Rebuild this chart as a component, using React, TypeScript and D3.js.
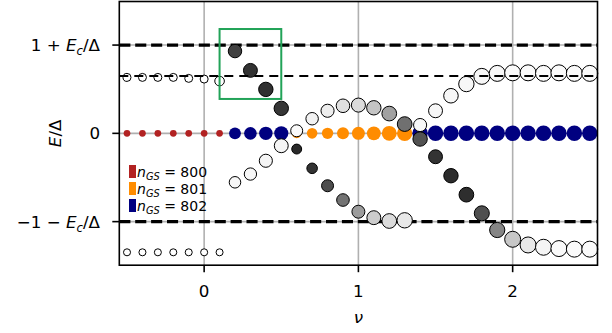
import React from "react";
import * as d3 from "d3";

// ---------- data ----------
const nu = [-0.5, -0.4, -0.3, -0.2, -0.1, 0.0, 0.1, 0.2, 0.3, 0.4, 0.5, 0.6, 0.7, 0.8, 0.9, 1.0,
  1.1, 1.2, 1.3, 1.4, 1.5, 1.6, 1.7, 1.8, 1.9, 2.0, 2.1, 2.2, 2.3, 2.4, 2.5];

const Ec = 0.54;

// ground-state particle number at each nu
const nGS = [800, 800, 800, 800, 800, 800, 800, 802, 802, 802, 802, 801, 801, 801, 801, 801,
  801, 801, 801, 802, 802, 802, 802, 802, 802, 802, 802, 802, 802, 802, 802];
const groundWeight = [0.42, 0.42, 0.42, 0.42, 0.42, 0.42, 0.42, 0.74, 0.79, 0.84, 0.88, 0.62, 0.66, 0.71, 0.75, 0.81,
  0.87, 0.93, 0.96, 0.97, 0.97, 0.97, 0.97, 0.97, 0.97, 0.97, 0.97, 0.97, 0.97, 0.97, 0.97];

// excited state branch A
const energyA = [0.976, 0.976, 0.976, 0.976, 0.959, 0.947, 0.912, 1.435, 1.098, 0.767, 0.436, -0.274, -0.61, -0.914, -1.163, -1.367,
  -1.471, -1.529, -1.517, 0.145, 0.394, 0.656, 0.86, 0.994, 1.046, 1.056, 1.056, 1.046, 1.056, 1.046, 1.046];
const shadeA = [0, 0, 0, 0, 0, 0, 0, 0.75, 0.8, 0.81, 0.79, 0.84, 0.8, 0.7, 0.55, 0.39,
  0.2, 0.14, 0.09, 0.03, 0.03, 0.03, 0.03, 0.03, 0.03, 0.02, 0.02, 0.02, 0.02, 0.02, 0.02];
const weightA = [0.5, 0.5, 0.5, 0.5, 0.5, 0.5, 0.6, 0.84, 0.87, 0.9, 0.9, 0.62, 0.66, 0.75, 0.79, 0.81,
  0.87, 0.92, 0.96, 0.82, 0.87, 0.91, 0.96, 1.0, 1.0, 1.0, 1.0, 1.0, 1.0, 1.0, 1.0];

// excited state branch B
const energyB = [-2.075, -2.075, -2.075, -2.075, -2.075, -2.075, -2.075, -0.854, -0.71, -0.478, -0.216, 0.045, 0.255, 0.394, 0.481, 0.493,
  0.446, 0.345, 0.162, -0.099, -0.408, -0.739, -1.07, -1.395, -1.686, -1.848, -1.947, -1.987, -2.01, -2.02, -2.02];
const shadeB = [0, 0, 0, 0, 0, 0, 0, 0.03, 0.03, 0.04, 0.04, 0.02, 0.05, 0.07, 0.12, 0.14,
  0.23, 0.37, 0.56, 0.68, 0.8, 0.83, 0.82, 0.69, 0.48, 0.22, 0.09, 0.04, 0.02, 0.02, 0.02];
const weightB = [0.44, 0.44, 0.44, 0.44, 0.44, 0.44, 0.44, 0.72, 0.77, 0.82, 0.87, 0.75, 0.78, 0.82, 0.85, 0.88,
  0.9, 0.92, 0.92, 0.9, 0.87, 0.9, 0.92, 0.94, 0.95, 1.0, 1.0, 1.0, 1.0, 1.0, 1.0];

const legendN = [800, 801, 802];
const legendColors = ["#b22222", "#ff8c00", "#000080"];
const xTicks = [0, 1, 2];

// highlighted region (data coordinates)
const boxNu = [0.1, 0.5];
const boxE = [0.6, 1.82];

// ---------- layout ----------
const W = 612, H = 333;
const FONT = "DejaVu Sans, sans-serif";

export default function App() {
  const x = d3.scaleLinear().domain([-0.55, 2.55]).range([119.3, 597.5]);
  const y = d3.scaleLinear().domain([-2.3, 2.3]).range([265.2, 1.5]);
  const r = d3.scaleLinear().domain([0, 1]).range([0, 8]);
  const gray = d3.scaleLinear<string>().domain([0, 1]).range(["#ffffff", "#000000"]);
  const gsColor = d3.scaleOrdinal<number, string>().domain(legendN).range(legendColors);

  const [x0, x1] = x.range();
  const [yb, yt] = y.range();
  const yTicks = [
    { v: 1 + Ec, kind: "plus" },
    { v: 0, kind: "zero" },
    { v: -1 - Ec, kind: "minus" },
  ];

  const mathTick = (kind: string) => {
    if (kind === "zero") return <tspan>0</tspan>;
    const pre = kind === "plus" ? "1 + " : "\u22121 \u2212 ";
    return (
      <>
        <tspan>{pre}</tspan>
        <tspan fontStyle="italic">E</tspan>
        <tspan fontStyle="italic" fontSize="70%" dy={4}>c</tspan>
        <tspan dy={-4}>/Δ</tspan>
      </>
    );
  };

  return (
    <div style={{ position: "absolute", left: 0, top: 0 }}>
      <svg width={W} height={H} style={{ display: "block", background: "#fff" }} fontFamily={FONT}>
        {/* grid */}
        {xTicks.map((t) => (
          <line key={"gx" + t} x1={x(t)} x2={x(t)} y1={yt} y2={yb} stroke="#b0b0b0" strokeWidth={1.6} />
        ))}
        {yTicks.map((t) => (
          <line key={"gy" + t.kind} x1={x0} x2={x1} y1={y(t.v)} y2={y(t.v)} stroke="#b0b0b0" strokeWidth={1.6} />
        ))}
        {/* thick dashed levels */}
        {[1 + Ec, -1 - Ec].map((v) => (
          <line key={"d" + v} x1={x0} x2={x1} y1={y(v)} y2={y(v)} stroke="#000" strokeWidth={3.2} strokeDasharray="11.1,4.8" />
        ))}
        {/* ground state */}
        {nu.map((n, i) => (
          <circle key={"g" + i} cx={x(n)} cy={y(0)} r={r(groundWeight[i])} fill={gsColor(nGS[i])} />
        ))}
        {/* branch A */}
        {nu.map((n, i) => (
          <circle key={"a" + i} cx={x(n)} cy={y(energyA[i])} r={r(weightA[i])} fill={gray(shadeA[i])} stroke="#000" strokeWidth={1} />
        ))}
        {/* branch B */}
        {nu.map((n, i) => (
          <circle key={"b" + i} cx={x(n)} cy={y(energyB[i])} r={r(weightB[i])} fill={gray(shadeB[i])} stroke="#000" strokeWidth={1} />
        ))}
        {/* thin dashed at Delta */}
        <line x1={x0} x2={x1} y1={y(1)} y2={y(1)} stroke="#000" strokeWidth={2.2} strokeDasharray="9,6" />
        {/* highlight box */}
        <rect x={x(boxNu[0])} y={y(boxE[1])} width={x(boxNu[1]) - x(boxNu[0])} height={y(boxE[0]) - y(boxE[1])}
          fill="none" stroke="#22a358" strokeWidth={2} />
        {/* spines */}
        <rect x={x0} y={yt} width={x1 - x0} height={yb - yt} fill="none" stroke="#000" strokeWidth={1.6} />
        {/* x ticks */}
        {xTicks.map((t) => (
          <g key={"xt" + t}>
            <line x1={x(t)} x2={x(t)} y1={yb} y2={yb + 7} stroke="#000" strokeWidth={1.6} />
            <text x={x(t)} y={297} textAnchor="middle" fontSize={16.7}>{t}</text>
          </g>
        ))}
        {/* y ticks */}
        {yTicks.map((t) => (
          <g key={"yt" + t.kind}>
            <line x1={x0 - 7} x2={x0} y1={y(t.v)} y2={y(t.v)} stroke="#000" strokeWidth={1.6} />
            <text x={100} y={y(t.v) + 6} textAnchor="end" fontSize={16.7}>{mathTick(t.kind)}</text>
          </g>
        ))}
        {/* axis labels */}
        <text x={(x0 + x1) / 2} y={323} textAnchor="middle" fontSize={16.7} fontStyle="italic">ν</text>
        <text transform={`translate(61,${(yt + yb) / 2}) rotate(-90)`} textAnchor="middle" fontSize={16.7}>
          <tspan fontStyle="italic">E</tspan><tspan>/Δ</tspan>
        </text>
        {/* legend */}
        {legendN.map((n, i) => (
          <g key={"lg" + n} transform={`translate(129,${165 + i * 17})`}>
            <rect x={0} y={0} width={7} height={13} fill={gsColor(n)} />
            <text x={8} y={12.3} fontSize={14}>
              <tspan fontStyle="italic">n</tspan>
              <tspan fontStyle="italic" fontSize="70%" dy={3}>GS</tspan>
              <tspan dy={-3}> = {n}</tspan>
            </text>
          </g>
        ))}
      </svg>
    </div>
  );
}
